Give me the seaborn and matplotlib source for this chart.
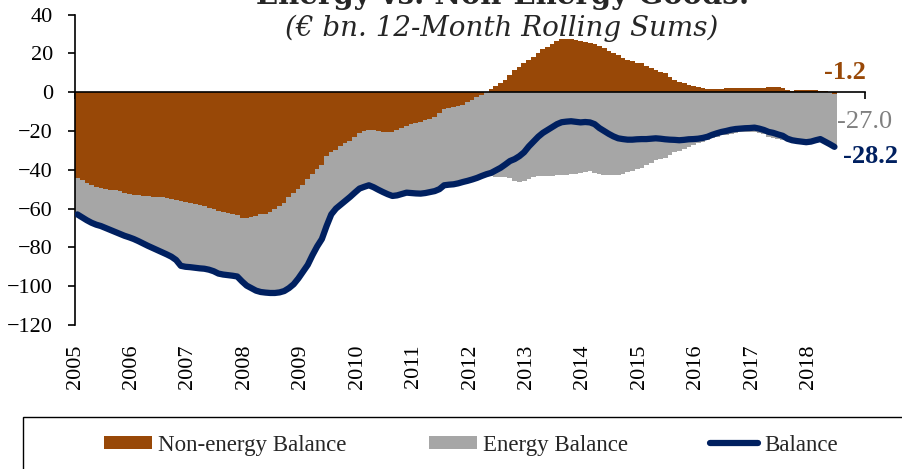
import numpy as np
import pandas as pd
import seaborn as sns
import matplotlib
matplotlib.use("Agg")
import matplotlib.pyplot as plt
from matplotlib.patches import Patch, Rectangle
from matplotlib.lines import Line2D

# monthly 12-month rolling sums, Jan 2005 .. Jun 2018 (EUR bn)
non_energy = [
    -44.5, -45.5, -46.8, -47.8, -48.7, -49.2, -49.8, -50.2, -50.6, -51.0, -51.8, -52.7,
    -53.0, -53.2, -53.4, -53.6, -53.8, -54.0, -54.0, -54.4, -55.0, -55.6, -56.2, -56.8,
    -57.2, -57.6, -58.2, -58.8, -59.6, -60.3, -61.0, -61.6, -62.2, -62.8, -63.4, -65.0,
    -64.8, -64.4, -63.8, -63.0, -62.6, -62.0, -60.4, -58.8, -57.0, -54.0, -52.0, -50.0,
    -48.0, -45.0, -42.0, -39.5, -37.3, -33.0, -31.0, -29.6, -27.8, -26.0, -25.0, -23.0,
    -21.0, -19.8, -19.6, -19.6, -20.2, -20.4, -20.7, -20.7, -19.5, -18.5, -17.5, -16.6,
    -15.8, -15.2, -14.5, -13.8, -12.8, -11.0, -8.8, -8.2, -7.5, -7.0, -6.5, -5.2,
    -4.0, -2.6, -1.4, 0.2, 1.7, 3.2, 4.8, 6.3, 8.8, 11.4, 13.2, 15.0,
    16.6, 18.3, 20.2, 22.0, 23.5, 25.0, 26.2, 27.2, 27.4, 27.2, 26.8, 26.3,
    25.6, 25.2, 25.0, 23.8, 22.6, 21.4, 20.0, 19.0, 17.8, 16.6, 16.0, 15.2,
    14.8, 13.6, 12.3, 11.4, 10.4, 9.6, 8.0, 6.3, 5.4, 4.6, 3.8, 2.9,
    2.4, 2.0, 1.6, 1.5, 1.7, 1.8, 2.0, 2.0, 2.1, 2.0, 1.9, 2.0,
    2.0, 2.1, 2.2, 2.4, 2.6, 2.6, 2.0, 1.2, 0.8, 1.0, 1.1, 1.2,
    1.2, 1.0, 0.8, 0.7, 0.2, -1.2,
]
balance = [
    -63.0, -64.5, -66.0, -67.3, -68.3, -69.0, -70.0, -71.0, -72.0, -73.0, -74.0, -74.8,
    -75.7, -76.8, -78.0, -79.2, -80.3, -81.4, -82.5, -83.6, -84.8, -86.5, -89.5, -90.0,
    -90.2, -90.5, -90.8, -91.0, -91.5, -92.3, -93.5, -94.0, -94.3, -94.6, -95.0, -97.5,
    -99.7, -101.0, -102.3, -103.0, -103.3, -103.5, -103.5, -103.2, -102.5, -101.0, -99.0, -96.0,
    -92.5, -89.0, -84.0, -79.5, -75.7, -69.0, -63.0, -60.0, -58.0, -56.0, -54.0, -51.8,
    -49.7, -48.8, -48.0, -49.0, -50.3, -51.5, -52.6, -53.5, -53.2, -52.5, -51.8, -52.0,
    -52.2, -52.3, -52.0, -51.5, -51.0, -50.0, -48.0, -47.7, -47.5, -47.0, -46.3, -45.7,
    -45.0, -44.2, -43.2, -42.3, -41.6, -40.3, -39.0, -37.3, -35.5, -34.5, -33.0, -31.0,
    -28.0, -25.5, -23.0, -21.0, -19.5, -18.0, -16.5, -15.5, -15.2, -15.0, -15.3, -15.6,
    -15.4, -15.6, -16.5, -18.5, -20.0, -21.5, -22.8, -23.8, -24.2, -24.5, -24.5, -24.3,
    -24.2, -24.2, -24.0, -23.8, -24.0, -24.3, -24.5, -24.6, -24.8, -24.6, -24.3, -24.2,
    -24.0, -23.6, -23.0, -22.0, -21.2, -20.5, -20.0, -19.4, -19.0, -18.8, -18.6, -18.5,
    -18.3, -18.8, -19.5, -20.5, -21.0, -21.8, -22.5, -24.0, -24.8, -25.2, -25.5, -25.8,
    -25.5, -24.8, -24.2, -25.5, -26.8, -28.2,
]
years = list(range(2005, 2019))
last_labels = ["-1.2", "-27.0", "-28.2"]

BROWN = "#984807"
GREY = "#A6A6A6"
NAVY = "#002060"

df = pd.DataFrame({"non_energy": non_energy, "balance": balance})
df["energy"] = df["balance"] - df["non_energy"]
df["t"] = 2005 + (np.arange(len(df)) + 0.5) / 12

sns.set_theme(style="white")
plt.rcParams["font.family"] = ["Liberation Serif", "DejaVu Serif"]

fig = plt.figure(figsize=(9.02, 4.69), dpi=100)
ax = fig.add_axes([75 / 902, 144 / 469, 790 / 902, 310.5 / 469])

# Excel style stacking: negatives stack below each other, positives above zero
bw = 1.12 / 12  # a touch wider than a month so no seams show
ax.bar(df["t"], df["non_energy"], width=bw, color=BROWN, linewidth=0, antialiased=False, zorder=1)
ax.bar(df["t"], df["energy"], bottom=np.minimum(df["non_energy"], 0), width=bw,
       color=GREY, linewidth=0, antialiased=False, zorder=1)
sns.lineplot(data=df, x="t", y="balance", ax=ax, color=NAVY, linewidth=4.5,
             solid_capstyle="round", zorder=3)

ax.set_xlim(2005, 2019)
ax.set_ylim(-120, 40)
ax.set_yticks(range(-120, 41, 20))
ax.set_xlabel("")
ax.set_ylabel("")
for s in ["top", "right"]:
    ax.spines[s].set_visible(False)
ax.spines["bottom"].set_position(("data", 0))
for s in ["left", "bottom"]:
    ax.spines[s].set_color("black")
    ax.spines[s].set_linewidth(1.2)
ax.set_xticks(range(2005, 2020))
ax.tick_params(axis="x", bottom=True, direction="out", length=5, width=1.2, color="black", labelbottom=False)
ax.tick_params(axis="y", left=True, direction="out", length=5, width=1.2, color="black",
               labelsize=16, pad=11, labelcolor="black")

sec = ax.secondary_xaxis(0)
sec.set_xticks(years, [str(y) for y in years])
sec.tick_params(length=0, labelsize=16, rotation=90, pad=14, labelcolor="black")
sec.spines["bottom"].set_visible(False)

# end-of-series labels
ax.text(2018.27, 10, last_labels[0], color=BROWN, fontsize=19, fontweight="bold", va="center", ha="left")
ax.text(2018.50, -15.3, last_labels[1], color="#808080", fontsize=19, va="center", ha="left", clip_on=False)
ax.text(2018.61, -33.3, last_labels[2], color=NAVY, fontsize=19, fontweight="bold", va="center", ha="left", clip_on=False)

# title (first line runs off the top of the image, as in the source)
fig.text(503 / 902, 1 - 3.5 / 469, "Energy vs. Non-Energy Goods:", ha="center", va="baseline",
         fontsize=21, fontweight="bold", family=["DejaVu Serif"])
fig.text(502 / 902, 1 - 36 / 469, "(€ bn. 12-Month Rolling Sums)", ha="center", va="baseline",
         fontsize=20, fontstyle="italic", family=["DejaVu Serif"])

# legend box
fig.patches.append(Rectangle((23 / 902, -0.05), 1.0, 1 - 417 / 469 + 0.05, transform=fig.transFigure,
                             facecolor="none", edgecolor="black", linewidth=1.0))
handles = [Patch(facecolor=BROWN, edgecolor="none"),
           Patch(facecolor=GREY, edgecolor="none"),
           Line2D([0], [0], color=NAVY, linewidth=4.5, solid_capstyle="round")]
fig.legend(handles, ["Non-energy Balance", "Energy Balance", "Balance"], loc="center left",
           bbox_to_anchor=(104 / 902, 1 - 445 / 469), ncol=3, frameon=False, fontsize=16.5,
           handlelength=2.1, handleheight=0.5, handletextpad=0.25, columnspacing=3.6,
           borderpad=0, borderaxespad=0)

fig.savefig("out.png", dpi=100)
